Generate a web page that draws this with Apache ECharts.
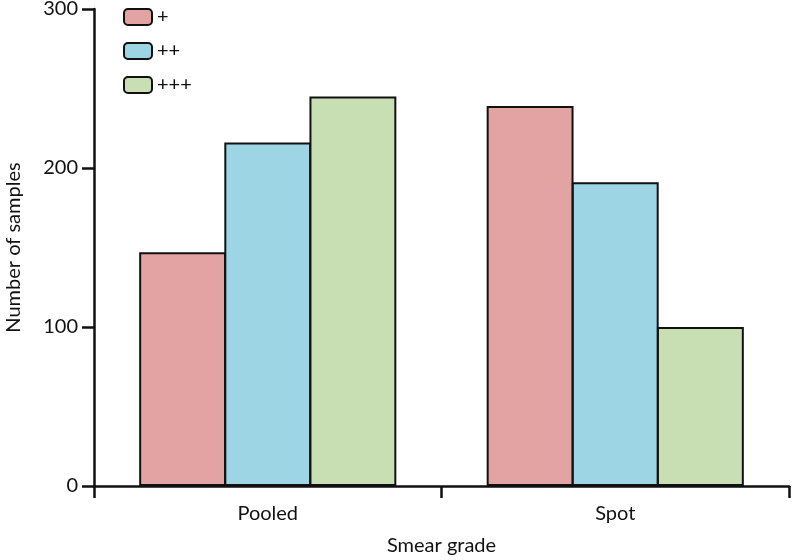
<!DOCTYPE html>
<html><head><meta charset="utf-8">
<script src="https://cdn.jsdelivr.net/npm/echarts@6/dist/echarts.min.js"></script>
<style>html,body{margin:0;padding:0;background:#fff}#c{width:792px;height:560px}</style>
</head><body><div id="c"></div>
<script>
const categories = ['Pooled', 'Spot'];
const seriesNames = ['+', '++', '+++'];
const plusValues = [147, 239];
const plusPlusValues = [216, 191];
const plusPlusPlusValues = [245, 100];
const colors = ['#e3a3a3', '#9dd5e5', '#c8dfb4'];
const font = 'Lato, "Open Sans", sans-serif';
const chart = echarts.init(document.getElementById('c'));
const dataArr = [plusValues, plusPlusValues, plusPlusPlusValues];
chart.setOption({
  animation: false,
  textStyle: {fontFamily: font},
  legend: {
    orient: 'vertical', left: 118, top: 2, itemWidth: 28, itemHeight: 16, itemGap: 14,
    itemStyle: {borderColor: '#111', borderWidth: 2},
    textStyle: {fontSize: 20, color: '#111', fontFamily: font},
    data: seriesNames
  },
  grid: {left: 94, right: 3, top: 9, bottom: 74, containLabel: false, outerBoundsMode: 'none'},
  xAxis: {
    type: 'category', data: categories,
    name: 'Smear grade', nameLocation: 'middle', nameGap: 50,
    nameTextStyle: {fontSize: 20, color: '#111', fontFamily: font},
    axisLine: {lineStyle: {color: '#111', width: 2.5}},
    axisTick: {show: true, length: 12, lineStyle: {color: '#111', width: 2.5}},
    axisLabel: {fontSize: 20, color: '#111', margin: 18, fontFamily: font}
  },
  yAxis: {
    type: 'value', min: 0, max: 300, interval: 100,
    name: 'Number of samples', nameLocation: 'middle', nameGap: 70,
    nameTextStyle: {fontSize: 20, color: '#111', fontFamily: font},
    axisLine: {show: true, lineStyle: {color: '#111', width: 2.5}},
    axisTick: {show: true, length: 12, lineStyle: {color: '#111', width: 2.5}},
    axisLabel: {fontSize: 20, color: '#111', margin: 16, fontFamily: font},
    splitLine: {show: false}
  },
  series: seriesNames.map((n, i) => ({
    name: n, type: 'bar', data: dataArr[i],
    barGap: '-2%', barCategoryGap: '26%',
    itemStyle: {color: colors[i], borderColor: '#111', borderWidth: 2}
  }))
});
</script></body></html>
